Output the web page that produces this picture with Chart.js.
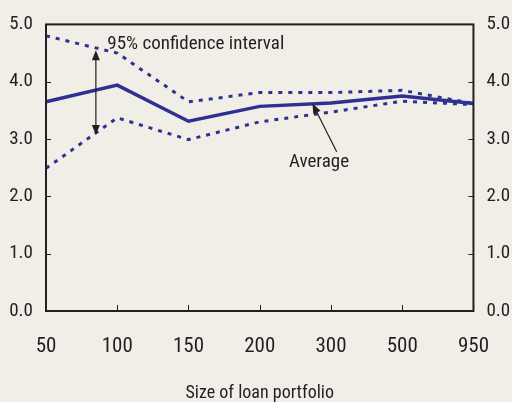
<!DOCTYPE html>
<html>
<head>
	<meta charset="utf-8">
	<title>Size of loan portfolio</title>
	<script src="https://cdn.jsdelivr.net/npm/chart.js@4.4.1/dist/chart.umd.min.js"></script>
	<style>
		html, body { margin: 0; padding: 0; background: #f1eee8; }
		#wrap { width: 512px; height: 402px; }
	</style>
</head>
<body>
	<div id="wrap"><canvas id="chart1" width="512" height="402"></canvas></div>
	<script type="text/javascript">
		// data
		var sizes = ['50', '100', '150', '200', '300', '500', '950'];
		var average = [3.65, 3.94, 3.31, 3.57, 3.63, 3.75, 3.62];
		var upperCI = [4.80, 4.50, 3.65, 3.81, 3.81, 3.85, 3.62];
		var lowerCI = [2.49, 3.37, 2.99, 3.30, 3.47, 3.66, 3.60];
		var yMin = 0, yMax = 5, yStep = 1;

		var blue = '#2e3192';
		var ink = '#231f20';
		var fontFamily = "'Roboto Condensed', 'Liberation Sans Narrow', 'Arial Narrow', sans-serif";

		function arrowHead(ctx, x1, y1, x2, y2) {
			// filled head pointing at (x2, y2)
			var a = Math.atan2(y2 - y1, x2 - x1);
			var len = 10, half = 4;
			ctx.beginPath();
			ctx.moveTo(x2, y2);
			ctx.lineTo(x2 - len * Math.cos(a) + half * Math.sin(a), y2 - len * Math.sin(a) - half * Math.cos(a));
			ctx.lineTo(x2 - len * Math.cos(a) - half * Math.sin(a), y2 - len * Math.sin(a) + half * Math.cos(a));
			ctx.closePath();
			ctx.fill();
		}

		var framePlugin = {
			id: 'frame',
			afterDatasetsDraw: function(chart) {
				var ctx = chart.ctx;
				var a = chart.chartArea;
				var xs = chart.scales.x, ys = chart.scales.y;
				ctx.save();
				ctx.strokeStyle = ink;
				ctx.lineWidth = 2;
				ctx.strokeRect(a.left, a.top, a.right - a.left, a.bottom - a.top);
				ctx.lineWidth = 1;
				ctx.beginPath();
				for (var i = 1; i < sizes.length - 1; i++) {
					var px = Math.round(xs.getPixelForValue(i)) + 0.5;
					ctx.moveTo(px, a.bottom);
					ctx.lineTo(px, a.bottom - 6);
				}
				for (var v = yMin + yStep; v < yMax; v += yStep) {
					var py = Math.round(ys.getPixelForValue(v)) + 0.5;
					ctx.moveTo(a.left, py);
					ctx.lineTo(a.left + 5, py);
					ctx.moveTo(a.right, py);
					ctx.lineTo(a.right - 5, py);
				}
				ctx.stroke();

				// annotations
				ctx.fillStyle = ink;
				ctx.strokeStyle = ink;
				ctx.lineWidth = 1.2;
				var ax = xs.getPixelForValue(0.70);
				var ay1 = ys.getPixelForValue(4.55), ay2 = ys.getPixelForValue(3.07);
				ctx.beginPath();
				ctx.moveTo(ax, ay1 + 6);
				ctx.lineTo(ax, ay2 - 6);
				ctx.stroke();
				arrowHead(ctx, ax, ay2, ax, ay1);
				arrowHead(ctx, ax, ay1, ax, ay2);

				var tx = xs.getPixelForValue(4.08), ty = ys.getPixelForValue(2.78);
				var hx = xs.getPixelForValue(3.74), hy = ys.getPixelForValue(3.62);
				ctx.beginPath();
				ctx.moveTo(tx, ty);
				ctx.lineTo(hx + (tx - hx) * 0.15, hy + (ty - hy) * 0.15);
				ctx.stroke();
				arrowHead(ctx, tx, ty, hx, hy);

				ctx.font = '19px ' + fontFamily;
				ctx.textBaseline = 'middle';
				ctx.textAlign = 'left';
				ctx.fillText('95% confidence interval', xs.getPixelForValue(0.86), ys.getPixelForValue(4.65));
				ctx.fillText('Average', xs.getPixelForValue(3.41), ys.getPixelForValue(2.60));
				ctx.restore();
			}
		};

		function yAxis(pos, width) {
			return {
				type: 'linear',
				position: pos,
				min: yMin,
				max: yMax,
				grid: { display: false, drawTicks: false },
				border: { display: false },
				ticks: {
					stepSize: yStep,
					padding: 13,
					color: ink,
					font: { family: fontFamily, size: 19 },
					callback: function(v) { return v.toFixed(1); }
				},
				afterFit: function(scale) { scale.width = width; }
			};
		}

		var ctx1 = document.getElementById('chart1');
		var chart1 = new Chart(ctx1, {
			type: 'line',
			data: {
				labels: sizes,
				datasets: [{
					label: 'Upper 95%',
					data: upperCI,
					borderColor: blue,
					borderWidth: 3,
					borderDash: [4, 6],
					pointRadius: 0,
					fill: false
				}, {
					label: 'Lower 95%',
					data: lowerCI,
					borderColor: blue,
					borderWidth: 3,
					borderDash: [4, 6],
					pointRadius: 0,
					fill: false
				}, {
					label: 'Average',
					data: average,
					borderColor: blue,
					borderWidth: 3.5,
					pointRadius: 0,
					fill: false
				}]
			},
			options: {
				responsive: false,
				animation: false,
				layout: { padding: { top: 24, left: 0, right: 0, bottom: 0 } },
				plugins: { legend: { display: false }, tooltip: { enabled: false } },
				scales: {
					x: {
						offset: false,
						grid: { display: false, drawTicks: false },
						border: { display: false },
						ticks: {
							padding: 23,
							maxRotation: 0,
							autoSkip: false,
							color: ink,
							font: { family: fontFamily, size: 21 }
						},
						title: {
							display: true,
							text: 'Size of loan portfolio',
							color: ink,
							padding: 0,
							font: { family: fontFamily, size: 18, lineHeight: 1.0 }
						},
						afterFit: function(scale) { scale.height = 91; }
					},
					y: yAxis('left', 46),
					y2: yAxis('right', 38)
				}
			},
			plugins: [framePlugin]
		});
	</script>
</body>
</html>
